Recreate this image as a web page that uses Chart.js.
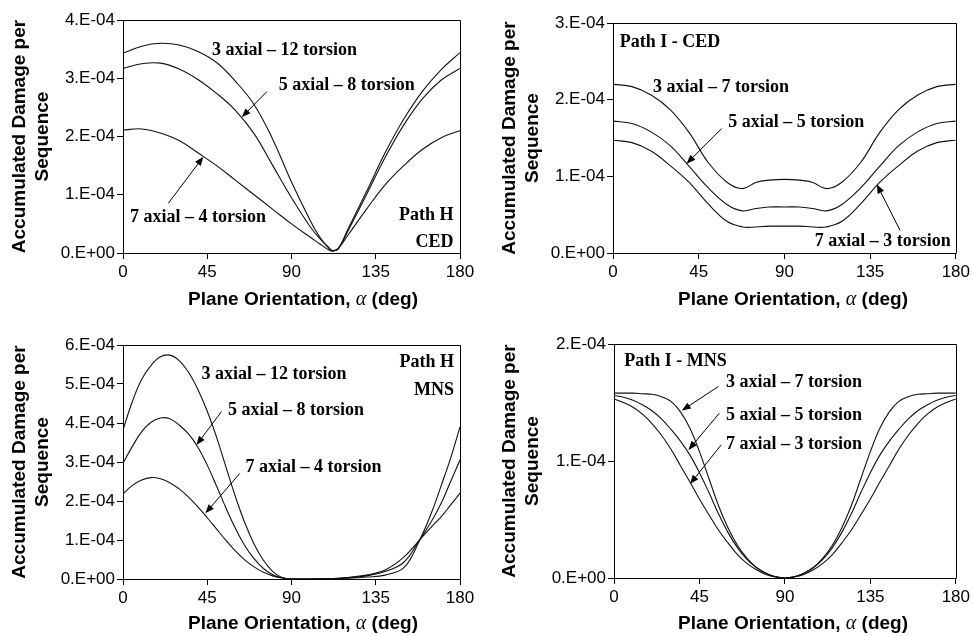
<!DOCTYPE html>
<html>
<head>
<meta charset="utf-8">
<script src="https://cdn.jsdelivr.net/npm/chart.js@4.4.0/dist/chart.umd.min.js"></script>
<style>
body { margin: 0; background: #fff; }
#wrap { position: relative; width: 973px; height: 636px; }
canvas { position: absolute; }
</style>
</head>
<body>
<div id="wrap">
  <canvas id="c1" width="490" height="320" style="left:0;top:0"></canvas>
  <canvas id="c2" width="483" height="320" style="left:490px;top:0"></canvas>
  <canvas id="c3" width="490" height="316" style="left:0;top:320px"></canvas>
  <canvas id="c4" width="483" height="316" style="left:490px;top:320px"></canvas>
</div>
<script>
// ---- data ----
var angleTicks = [0, 45, 90, 135, 180];

// Path H - CED
var hCedAngles = [0, 10, 20, 30, 40, 50, 60, 70, 80, 90, 100, 105, 110, 112, 115, 120, 130, 140, 150, 160, 170, 180];
var hCed_3a12t = [3.43e-4, 3.55e-4, 3.60e-4, 3.57e-4, 3.46e-4, 3.27e-4, 2.95e-4, 2.55e-4, 1.95e-4, 1.22e-4, 0.56e-4, 0.28e-4, 0.08e-4, 0.04e-4, 0.08e-4, 0.40e-4, 1.05e-4, 1.72e-4, 2.30e-4, 2.78e-4, 3.15e-4, 3.44e-4];
var hCed_5a8t = [3.17e-4, 3.25e-4, 3.26e-4, 3.16e-4, 2.98e-4, 2.74e-4, 2.45e-4, 2.05e-4, 1.50e-4, 0.95e-4, 0.45e-4, 0.25e-4, 0.09e-4, 0.04e-4, 0.07e-4, 0.37e-4, 1.00e-4, 1.64e-4, 2.20e-4, 2.65e-4, 2.97e-4, 3.17e-4];
var hCed_7a4t = [2.11e-4, 2.13e-4, 2.06e-4, 1.93e-4, 1.72e-4, 1.50e-4, 1.25e-4, 1.00e-4, 0.75e-4, 0.50e-4, 0.27e-4, 0.16e-4, 0.05e-4, 0.03e-4, 0.08e-4, 0.30e-4, 0.75e-4, 1.17e-4, 1.50e-4, 1.78e-4, 1.98e-4, 2.10e-4];

// Path I - CED
var iCedAngles = [0, 10, 20, 30, 40, 50, 60, 68, 75, 82, 90, 98, 105, 112, 120, 130, 140, 150, 160, 170, 180];
var iCed_3a7t = [2.20e-4, 2.17e-4, 2.06e-4, 1.87e-4, 1.57e-4, 1.18e-4, 0.92e-4, 0.84e-4, 0.92e-4, 0.95e-4, 0.96e-4, 0.95e-4, 0.92e-4, 0.84e-4, 0.92e-4, 1.18e-4, 1.57e-4, 1.87e-4, 2.06e-4, 2.17e-4, 2.20e-4];
var iCed_5a5t = [1.72e-4, 1.69e-4, 1.58e-4, 1.40e-4, 1.13e-4, 0.85e-4, 0.63e-4, 0.55e-4, 0.58e-4, 0.60e-4, 0.60e-4, 0.60e-4, 0.58e-4, 0.55e-4, 0.63e-4, 0.85e-4, 1.13e-4, 1.40e-4, 1.58e-4, 1.69e-4, 1.72e-4];
var iCed_7a3t = [1.47e-4, 1.44e-4, 1.33e-4, 1.14e-4, 0.92e-4, 0.64e-4, 0.41e-4, 0.34e-4, 0.34e-4, 0.35e-4, 0.35e-4, 0.35e-4, 0.34e-4, 0.34e-4, 0.41e-4, 0.64e-4, 0.92e-4, 1.14e-4, 1.33e-4, 1.44e-4, 1.47e-4];

// Path H - MNS
var hMnsAngles = [0, 5, 10, 15, 20, 25, 30, 35, 40, 45, 50, 55, 60, 65, 70, 75, 80, 85, 90, 100, 110, 120, 130, 140, 150, 158, 165, 170, 175, 180];
var hMns_3a12t = [3.82e-4, 4.55e-4, 5.12e-4, 5.48e-4, 5.70e-4, 5.74e-4, 5.60e-4, 5.30e-4, 4.86e-4, 4.30e-4, 3.63e-4, 2.87e-4, 2.12e-4, 1.45e-4, 0.90e-4, 0.48e-4, 0.19e-4, 0.04e-4, 0, 0, 0.005e-4, 0.02e-4, 0.05e-4, 0.10e-4, 0.29e-4, 0.95e-4, 1.73e-4, 2.40e-4, 3.10e-4, 3.90e-4];
var hMns_5a8t = [2.97e-4, 3.40e-4, 3.78e-4, 4.02e-4, 4.13e-4, 4.11e-4, 3.95e-4, 3.72e-4, 3.38e-4, 2.92e-4, 2.38e-4, 1.82e-4, 1.30e-4, 0.86e-4, 0.52e-4, 0.27e-4, 0.11e-4, 0.03e-4, 0, 0, 0.01e-4, 0.03e-4, 0.08e-4, 0.19e-4, 0.43e-4, 0.97e-4, 1.50e-4, 1.95e-4, 2.50e-4, 3.05e-4];
var hMns_7a4t = [2.18e-4, 2.40e-4, 2.54e-4, 2.60e-4, 2.57e-4, 2.47e-4, 2.31e-4, 2.10e-4, 1.85e-4, 1.57e-4, 1.28e-4, 0.99e-4, 0.72e-4, 0.49e-4, 0.31e-4, 0.17e-4, 0.08e-4, 0.025e-4, 0, 0, 0.01e-4, 0.04e-4, 0.10e-4, 0.23e-4, 0.56e-4, 0.98e-4, 1.35e-4, 1.60e-4, 1.90e-4, 2.20e-4];

// Path I - MNS
var iMnsAngles = [0, 5, 10, 15, 20, 25, 30, 35, 40, 45, 50, 55, 60, 65, 70, 75, 80, 85, 90, 95, 100, 105, 110, 115, 120, 125, 130, 135, 140, 145, 150, 155, 160, 165, 170, 175, 180];
var iMns_3a7t = [1.58e-4, 1.58e-4, 1.58e-4, 1.575e-4, 1.57e-4, 1.55e-4, 1.51e-4, 1.42e-4, 1.28e-4, 1.08e-4, 0.85e-4, 0.62e-4, 0.43e-4, 0.28e-4, 0.17e-4, 0.09e-4, 0.04e-4, 0.01e-4, 0, 0.01e-4, 0.04e-4, 0.09e-4, 0.17e-4, 0.28e-4, 0.43e-4, 0.62e-4, 0.85e-4, 1.08e-4, 1.28e-4, 1.42e-4, 1.51e-4, 1.55e-4, 1.57e-4, 1.575e-4, 1.58e-4, 1.58e-4, 1.58e-4];
var iMns_5a5t = [1.56e-4, 1.545e-4, 1.52e-4, 1.48e-4, 1.43e-4, 1.36e-4, 1.27e-4, 1.17e-4, 1.05e-4, 0.90e-4, 0.73e-4, 0.55e-4, 0.39e-4, 0.26e-4, 0.16e-4, 0.09e-4, 0.04e-4, 0.01e-4, 0, 0.01e-4, 0.04e-4, 0.09e-4, 0.16e-4, 0.26e-4, 0.39e-4, 0.55e-4, 0.73e-4, 0.90e-4, 1.05e-4, 1.17e-4, 1.27e-4, 1.36e-4, 1.43e-4, 1.48e-4, 1.52e-4, 1.545e-4, 1.56e-4];
var iMns_7a3t = [1.53e-4, 1.50e-4, 1.46e-4, 1.40e-4, 1.32e-4, 1.22e-4, 1.10e-4, 0.96e-4, 0.82e-4, 0.675e-4, 0.54e-4, 0.41e-4, 0.30e-4, 0.20e-4, 0.125e-4, 0.07e-4, 0.03e-4, 0.01e-4, 0, 0.01e-4, 0.03e-4, 0.07e-4, 0.125e-4, 0.20e-4, 0.30e-4, 0.41e-4, 0.54e-4, 0.675e-4, 0.82e-4, 0.96e-4, 1.10e-4, 1.22e-4, 1.32e-4, 1.40e-4, 1.46e-4, 1.50e-4, 1.53e-4];

var yTitle = ['Accumulated Damage per', 'Sequence'];
var SANS = '"Liberation Sans", Arial, sans-serif';
var SERIF = '"Liberation Serif", "Times New Roman", serif';

// Excel style "0.E+00" labels
function sciLabel(v) {
  if (Math.abs(v) < 1e-12) return '0.E+00';
  var e = Math.floor(Math.log10(Math.abs(v)) + 1e-9);
  var m = Math.round(v / Math.pow(10, e));
  var a = Math.abs(e);
  return m + '.E' + (e < 0 ? '-' : '+') + (a < 10 ? '0' + a : a);
}

function drawArrow(ctx, x1, y1, x2, y2) {
  var ang = Math.atan2(y2 - y1, x2 - x1);
  var len = 9, half = 3.5;
  ctx.beginPath();
  ctx.moveTo(x1, y1);
  ctx.lineTo(x2 - Math.cos(ang) * len * 0.8, y2 - Math.sin(ang) * len * 0.8);
  ctx.stroke();
  ctx.beginPath();
  ctx.moveTo(x2, y2);
  ctx.lineTo(x2 - Math.cos(ang) * len - Math.sin(ang) * half, y2 - Math.sin(ang) * len + Math.cos(ang) * half);
  ctx.lineTo(x2 - Math.cos(ang) * len + Math.sin(ang) * half, y2 - Math.sin(ang) * len - Math.cos(ang) * half);
  ctx.closePath();
  ctx.fill();
}

// frame, x title (with italic alpha) and the labels/arrows
var extras = {
  id: 'extras',
  afterDraw: function(chart, args, opts) {
    var ctx = chart.ctx, a = chart.chartArea;
    var xs = chart.scales.x, ys = chart.scales.y;
    ctx.save();
    ctx.strokeStyle = '#000';
    ctx.fillStyle = '#000';
    ctx.lineWidth = 1;
    ctx.beginPath();
    ctx.moveTo(Math.round(a.left) + 0.5, Math.round(a.top) + 0.5);
    ctx.lineTo(Math.round(a.right) + 0.5, Math.round(a.top) + 0.5);
    ctx.lineTo(Math.round(a.right) + 0.5, Math.round(a.bottom) + 0.5);
    ctx.stroke();

    // x axis title
    var parts = [
      { t: 'Plane Orientation, ', f: 'bold 19px ' + SANS },
      { t: 'α', f: 'italic 20px ' + SERIF },
      { t: ' (deg)', f: 'bold 19px ' + SANS }
    ];
    var total = 0;
    parts.forEach(function(p) { ctx.font = p.f; p.w = ctx.measureText(p.t).width; total += p.w; });
    var tx = opts.titleX - total / 2;
    ctx.textBaseline = 'middle';
    ctx.textAlign = 'left';
    parts.forEach(function(p) { ctx.font = p.f; ctx.fillText(p.t, tx, opts.titleY); tx += p.w; });

    ctx.font = 'bold 18px ' + SERIF;
    (opts.notes || []).forEach(function(n) {
      ctx.textAlign = n.align || 'left';
      ctx.fillText(n.text, xs.getPixelForValue(n.x), ys.getPixelForValue(n.y));
    });
    (opts.arrows || []).forEach(function(r) {
      drawArrow(ctx, xs.getPixelForValue(r[0]), ys.getPixelForValue(r[1]),
                xs.getPixelForValue(r[2]), ys.getPixelForValue(r[3]));
    });
    ctx.restore();
  }
};

function makeChart(id, angles, series, yMax, yStep, box, extra) {
  var datasets = series.map(function(vals) {
    return {
      data: angles.map(function(a, i) { return { x: a, y: vals[i] }; }),
      borderColor: '#111',
      borderWidth: 1.1,
      pointRadius: 0,
      fill: false,
      tension: 0.4
    };
  });
  new Chart(document.getElementById(id), {
    type: 'line',
    data: { datasets: datasets },
    options: {
      responsive: false,
      animation: false,
      devicePixelRatio: 1,
      events: [],
      layout: { padding: { left: 0, top: box.top, right: box.right, bottom: 0 } },
      plugins: {
        legend: { display: false },
        tooltip: { enabled: false },
        extras: extra
      },
      scales: {
        x: {
          type: 'linear',
          min: 0, max: 180,
          afterBuildTicks: function(s) { s.ticks = angleTicks.map(function(v) { return { value: v }; }); },
          afterFit: function(s) { s.height = box.xh; },
          grid: { drawOnChartArea: false, drawTicks: true, tickLength: 6, color: '#000' },
          border: { display: true, color: '#000', width: 1 },
          ticks: { color: '#000', padding: 3, maxRotation: 0, font: { family: SANS, size: 17 } }
        },
        y: {
          min: 0, max: yMax,
          afterFit: function(s) { s.width = box.yw; },
          grid: { drawOnChartArea: false, drawTicks: true, tickLength: 6, color: '#000' },
          border: { display: true, color: '#000', width: 1 },
          ticks: { stepSize: yStep, color: '#000', padding: 2, font: { family: SANS, size: 17 }, callback: sciLabel },
          title: {
            display: true, text: yTitle, color: '#000',
            font: { family: SANS, size: 19, weight: 'bold', lineHeight: 1.2 },
            padding: { top: 8.5, bottom: 0 }
          }
        }
      }
    },
    plugins: [extras]
  });
}

makeChart('c1', hCedAngles, [hCed_3a12t, hCed_5a8t, hCed_7a4t], 4e-4, 1e-4,
  { top: 20, right: 30, xh: 67, yw: 123 },
  {
    titleX: 303, titleY: 300,
    notes: [
      { text: '3 axial – 12 torsion', x: 47.5, y: 3.485e-4 },
      { text: '5 axial – 8 torsion', x: 83.2, y: 2.884e-4 },
      { text: '7 axial – 4 torsion', x: 3.7, y: 0.613e-4 },
      { text: 'Path H', x: 176.5, y: 0.652e-4, align: 'right' },
      { text: 'CED', x: 176.5, y: 0.184e-4, align: 'right' }
    ],
    arrows: [[76.8, 2.77e-4, 63.4, 2.33e-4], [24.2, 0.853e-4, 42.9, 1.653e-4]]
  });

makeChart('c2', iCedAngles, [iCed_3a7t, iCed_5a5t, iCed_7a3t], 3e-4, 1e-4,
  { top: 23, right: 17, xh: 67, yw: 123 },
  {
    titleX: 303, titleY: 300,
    notes: [
      { text: 'Path I - CED', x: 3.5, y: 2.752e-4 },
      { text: '3 axial – 7 torsion', x: 21, y: 2.165e-4 },
      { text: '5 axial – 5 torsion', x: 60.5, y: 1.709e-4 },
      { text: '7 axial – 3 torsion', x: 177.4, y: 0.157e-4, align: 'right' }
    ],
    arrows: [[57, 1.622e-4, 38.6, 1.165e-4], [150.7, 0.296e-4, 138.5, 0.896e-4]]
  });

makeChart('c3', hMnsAngles, [hMns_3a12t, hMns_5a8t, hMns_7a4t], 6e-4, 1e-4,
  { top: 25, right: 30, xh: 57, yw: 123 },
  {
    titleX: 303, titleY: 304,
    notes: [
      { text: 'Path H', x: 176.8, y: 5.547e-4, align: 'right' },
      { text: 'MNS', x: 176.8, y: 4.846e-4, align: 'right' },
      { text: '3 axial – 12 torsion', x: 41.9, y: 5.256e-4 },
      { text: '5 axial – 8 torsion', x: 56.1, y: 4.333e-4 },
      { text: '7 axial – 4 torsion', x: 65.4, y: 2.855e-4 }
    ],
    arrows: [[52.6, 4.291e-4, 39.2, 3.436e-4], [62.4, 2.709e-4, 44, 1.684e-4]]
  });

makeChart('c4', iMnsAngles, [iMns_3a7t, iMns_5a5t, iMns_7a3t], 2e-4, 1e-4,
  { top: 24, right: 17, xh: 58, yw: 124 },
  {
    titleX: 303, titleY: 304,
    notes: [
      { text: 'Path I - MNS', x: 5.4, y: 1.851e-4 },
      { text: '3 axial – 7 torsion', x: 59, y: 1.671e-4 },
      { text: '5 axial – 5 torsion', x: 59, y: 1.394e-4 },
      { text: '7 axial – 3 torsion', x: 59, y: 1.143e-4 }
    ],
    arrows: [[55, 1.637e-4, 35.7, 1.431e-4], [55.5, 1.409e-4, 39.2, 1.094e-4], [56.4, 1.137e-4, 40, 0.803e-4]]
  });
</script>
</body>
</html>
